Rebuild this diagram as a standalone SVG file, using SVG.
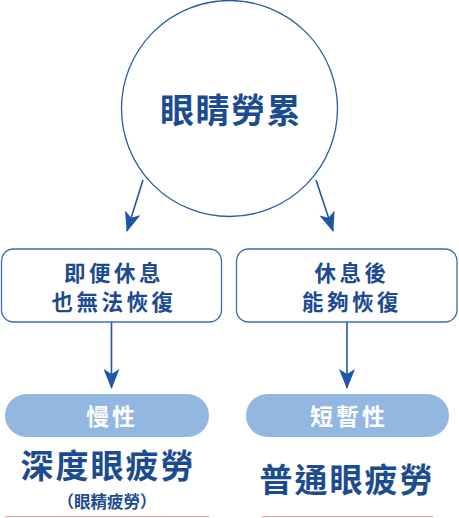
<svg xmlns="http://www.w3.org/2000/svg" width="459" height="518" viewBox="0 0 459 518">
<defs>
<style>
.t{font-family:"Noto Sans CJK TC","Noto Sans CJK SC",sans-serif;font-weight:bold;fill:#1d4b91;text-anchor:middle;dominant-baseline:central}
.box{fill:#fff;stroke:#3d6db2;stroke-width:1.3}
.pill{fill:#92b8e1}
.pt{font-family:"Noto Sans CJK TC","Noto Sans CJK SC",sans-serif;font-weight:bold;fill:#fff;text-anchor:middle;dominant-baseline:central;font-size:23px;letter-spacing:3px}
.c{stroke:#1f56a6;stroke-width:1.6;fill:none}
.ul{stroke:#e79aa4;stroke-width:1.2}
</style>
<marker id="ah2" viewBox="0 0 20 16" refX="19" refY="8" markerWidth="20" markerHeight="16" markerUnits="userSpaceOnUse" orient="auto">
<path d="M0,0 L20,8 L0,16 L5,8 Z" fill="#1f56a6"/>
</marker>
</defs>
<g id="circle">
<circle cx="229.5" cy="108.5" r="108" fill="#fff" stroke="#2a5ba6" stroke-width="1.3"/>
<text class="t" x="231" y="108" font-size="34" letter-spacing="1.5">眼睛勞累</text>
</g>
<g id="connectors">
<line class="c" x1="143" y1="180" x2="127" y2="231" marker-end="url(#ah2)"/>
<line class="c" x1="316" y1="180" x2="333" y2="231" marker-end="url(#ah2)"/>
<line class="c" x1="111.5" y1="322" x2="111.5" y2="388" marker-end="url(#ah2)"/>
<line class="c" x1="347" y1="322" x2="347" y2="388" marker-end="url(#ah2)"/>
</g>
<g id="box-left">
<rect class="box" x="1.5" y="249" width="220" height="73" rx="12"/>
<text class="t" x="114" y="271" font-size="21.5" letter-spacing="3.5">即便休息</text>
<text class="t" x="114" y="300" font-size="21.5" letter-spacing="3.5">也無法恢復</text>
</g>
<g id="box-right">
<rect class="box" x="236.5" y="249" width="220.5" height="73" rx="12"/>
<text class="t" x="352" y="271" font-size="21.5" letter-spacing="3.5">休息後</text>
<text class="t" x="352" y="300" font-size="21.5" letter-spacing="3.5">能夠恢復</text>
</g>
<g id="pill-left">
<rect class="pill" x="5" y="394" width="204" height="43" rx="21.5"/>
<text class="pt" x="112" y="415">慢性</text>
</g>
<g id="pill-right">
<rect class="pill" x="246" y="394" width="203" height="43" rx="21.5"/>
<text class="pt" x="349" y="415">短暫性</text>
</g>
<g id="result-left">
<text class="t" x="108" y="463.5" font-size="33" letter-spacing="2">深度眼疲勞</text>
<text class="t" x="107" y="501" font-size="16.5">（眼精疲勞）</text>
<line class="ul" x1="5" y1="516.5" x2="209" y2="516.5"/>
</g>
<g id="result-right">
<text class="t" x="347" y="478" font-size="33" letter-spacing="2">普通眼疲勞</text>
<line class="ul" x1="262" y1="516.5" x2="433" y2="516.5"/>
</g>
</svg>
